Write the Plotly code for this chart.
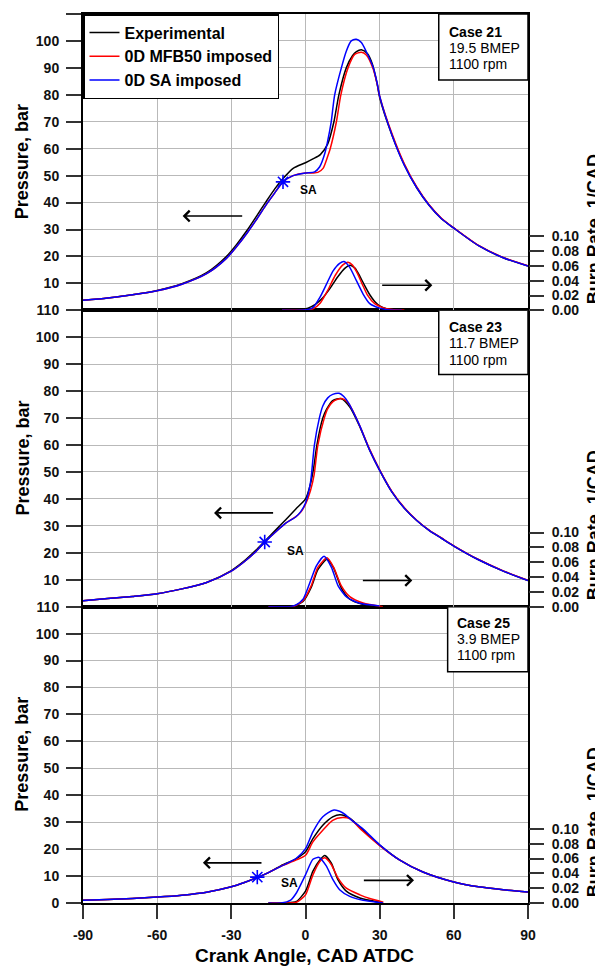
import plotly.graph_objects as go

# ---------------- Case 21 (top) ----------------
c21_exp_cad = [-90, -80, -70, -60, -50, -40, -32, -28, -23.4, -20, -16.2, -12.5, -9, -5, 0, 3, 6, 9, 11.5, 13.5, 16.5, 19, 20.6, 22.6, 25, 27, 29, 30, 35, 40, 45, 50, 55, 60, 70, 80, 90]
c21_exp_p = [3.7, 4.6, 5.8, 7.4, 9.9, 14.0, 20.0, 24.3, 30.0, 34.7, 40.0, 45.0, 49.0, 52.7, 54.8, 56.2, 57.8, 61.8, 70, 80, 90, 94.5, 96, 96.7, 95.3, 91.5, 84, 79, 65, 54, 45.5, 39, 34, 30.5, 24, 19.5, 16.4]
c21_mfb_cad = [-90, -80, -70, -60, -50, -40, -32, -28, -23.4, -20, -16.2, -12.5, -9.1, -5, 0, 3, 5, 7.1, 9.1, 10, 12.5, 14.3, 17.2, 19.9, 22.6, 24.6, 27.3, 29, 30, 35, 40, 45, 50, 55, 60, 70, 80, 90]
c21_mfb_p = [3.7, 4.6, 5.8, 7.3, 9.7, 13.6, 19.3, 23.5, 29.0, 33.5, 38.8, 43.5, 47.7, 50.0, 51.0, 51.0, 51.2, 52.7, 57.5, 60, 70, 80, 90, 95, 95.8, 94.8, 89.8, 84, 79.5, 65.5, 54.3, 45.8, 39.2, 34.2, 30.6, 24.1, 19.6, 16.5]
c21_sa_cad = [-90, -80, -70, -60, -50, -40, -32, -28, -23.4, -20, -16.2, -12.5, -9.1, -5, 0, 3.7, 5.75, 7.8, 9, 10.4, 11.8, 14.5, 16.5, 18.5, 20.6, 22.6, 24.6, 27.3, 29, 30, 35, 40, 45, 50, 55, 60, 70, 80, 90]
c21_sa_p = [3.7, 4.6, 5.8, 7.3, 9.7, 13.6, 19.3, 23.5, 29.0, 33.5, 38.8, 43.5, 47.7, 50.0, 51.0, 51.4, 53.3, 58.2, 63, 70, 80, 90, 96.2, 100, 100.6, 99.4, 96, 90.4, 84.3, 79.5, 65, 53.8, 45.5, 39, 34, 30.5, 24, 19.5, 16.4]

c21_br_exp_cad = [-9.5, -5, -2, 1, 4, 7, 10, 13, 16, 18, 20, 22, 24, 26, 28, 30, 33, 36]
c21_br_exp = [0, 0.0005, 0.001, 0.003, 0.008, 0.017, 0.030, 0.045, 0.057, 0.061, 0.057, 0.046, 0.033, 0.021, 0.012, 0.006, 0.002, 0]
c21_br_mfb_cad = [-9.5, -3, 0, 3, 6, 9, 12, 15, 17.2, 19, 21, 23, 25, 28, 31, 35, 40]
c21_br_mfb = [0, 0, 0.0005, 0.002, 0.010, 0.027, 0.047, 0.061, 0.065, 0.061, 0.050, 0.035, 0.021, 0.009, 0.004, 0.001, 0]
c21_br_sa_cad = [-9.5, -2, 1, 3, 5.75, 8.45, 11.1, 13.8, 15.6, 17.9, 20.6, 23.3, 26, 30, 34, 39]
c21_br_sa = [0, 0, 0.001, 0.0036, 0.017, 0.035, 0.053, 0.0635, 0.066, 0.058, 0.040, 0.022, 0.009, 0.003, 0.0005, 0]

# ---------------- Case 23 (middle) ----------------
c23_exp_cad = [-90, -80, -70, -60, -50, -40, -30, -25, -20, -16.5, -12, -8, -4, 0, 2, 3.3, 4.6, 7, 8.5, 11, 14.5, 18, 22, 26, 30, 35, 40, 45, 50, 55, 60, 70, 80, 90]
c23_exp_p = [2.2, 3.0, 3.8, 4.8, 6.6, 9.0, 13.4, 16.8, 21, 24.3, 28.5, 32.3, 36.2, 40, 45.5, 51.5, 60, 70, 73.2, 76.5, 77.2, 74, 66.7, 58, 50.6, 42.5, 36.5, 32, 28.3, 25.4, 22.5, 17.4, 13.2, 9.7]
c23_mfb_cad = [-90, -80, -70, -60, -50, -40, -30, -25, -20, -16.5, -12, -8, -4, -2, 0, 2, 3.5, 5, 7.6, 9, 11, 13, 14.9, 17, 19, 22, 26, 30, 35, 40, 45, 50, 55, 60, 70, 80, 90]
c23_mfb_p = [2.2, 3.0, 3.8, 4.8, 6.6, 9.0, 13.2, 16.5, 20.5, 23.9, 27.8, 31, 33.3, 35, 38, 43, 49, 60, 70, 73.5, 76, 77, 77.2, 76, 73, 67, 58.3, 50.8, 42.7, 36.7, 32.1, 28.4, 25.5, 22.6, 17.5, 13.3, 9.8]
c23_sa_cad = [-90, -80, -70, -60, -50, -40, -30, -25, -20, -16.5, -12, -8, -4, -2, 0, 2, 3.6, 5.6, 7, 9, 11, 13.6, 15.5, 17.5, 20, 22, 26, 30, 35, 40, 45, 50, 55, 60, 70, 80, 90]
c23_sa_p = [2.2, 3.0, 3.8, 4.8, 6.6, 9.0, 13.2, 16.5, 20.5, 23.9, 27.8, 31, 33.3, 35.2, 38.5, 46, 60, 70, 74.5, 77.5, 78.8, 79.2, 78, 75.5, 71, 67, 58, 50.6, 42.5, 36.5, 32, 28.3, 25.4, 22.5, 17.4, 13.2, 9.7]

c23_br_exp_cad = [-15, -5, -1, 2.3, 5, 8.7, 11.4, 14.5, 17.9, 23.3, 30]
c23_br_exp = [0, 0.0005, 0.007, 0.026, 0.050, 0.064, 0.052, 0.025, 0.010, 0.003, 0]
c23_br_mfb_cad = [-15, -5, -1, 2.3, 5, 8.7, 11.4, 14.5, 17.9, 23.3, 31.3]
c23_br_mfb = [0, 0, 0.008, 0.028, 0.053, 0.066, 0.053, 0.028, 0.0135, 0.005, 0]
c23_br_sa_cad = [-15, -6.4, -4, -1, 1.6, 4.4, 7.5, 10.5, 13.2, 16.6, 21.9, 30]
c23_br_sa = [0, 0, 0.002, 0.010, 0.031, 0.055, 0.068, 0.053, 0.028, 0.013, 0.0045, 0.001]

# ---------------- Case 25 (bottom) ----------------
c25_exp_cad = [-90, -80, -70, -60, -50, -40, -30, -25, -20, -15, -10, -3.7, 0, 3, 7, 11, 14, 18, 23, 30, 38, 47.5, 60, 70, 80, 90]
c25_exp_p = [1.0, 1.3, 1.7, 2.2, 2.9, 4.0, 6.0, 7.5, 9.3, 11.3, 13.8, 16.5, 19, 23.9, 28.9, 32, 32.8, 31.4, 27.2, 21.5, 16, 11.5, 7.8, 6.0, 4.9, 4.1]
c25_mfb_cad = [-90, -80, -70, -60, -50, -40, -30, -25, -20, -15, -10, -3.7, 0, 3, 7, 11, 15, 18, 23, 30, 38, 47.5, 60, 70, 80, 90]
c25_mfb_p = [1.0, 1.3, 1.7, 2.2, 2.9, 4.0, 6.0, 7.5, 9.3, 11.3, 13.6, 16.0, 17.7, 22.7, 27, 30.7, 31.7, 31.2, 26.8, 21.3, 16, 11.5, 7.8, 6.0, 4.9, 4.1]
c25_sa_cad = [-90, -80, -70, -60, -50, -40, -30, -25, -20, -15, -10, -3.7, 0, 3, 7, 11.5, 15, 19, 23, 30, 38, 47.5, 60, 70, 80, 90]
c25_sa_p = [1.0, 1.3, 1.7, 2.2, 2.9, 4.0, 6.0, 7.5, 9.3, 11.3, 13.6, 16.6, 20.2, 26.4, 32, 34.5, 33.5, 30.5, 27.7, 21.6, 16, 11.5, 7.8, 6.0, 4.9, 4.1]

c25_br_exp_cad = [-15, -8, -3.7, 0, 3, 5.8, 7.8, 10.4, 13.1, 16.5, 22, 30]
c25_br_exp = [0, 0, 0.002, 0.016, 0.043, 0.058, 0.064, 0.054, 0.0315, 0.016, 0.0068, 0.001]
c25_br_mfb_cad = [-15, -8, -3.7, 0, 3, 5.8, 7.8, 10.4, 13.1, 16.5, 22, 26, 31.5]
c25_br_mfb = [0, 0, 0.001, 0.011, 0.038, 0.056, 0.061, 0.052, 0.034, 0.020, 0.011, 0.006, 0.001]
c25_br_sa_cad = [-15, -10, -6, -3.7, 0, 3, 5.5, 8.4, 11.1, 13.8, 17.9, 23.3, 31.4]
c25_br_sa = [0, 0, 0.004, 0.0135, 0.038, 0.059, 0.0615, 0.050, 0.0315, 0.018, 0.009, 0.0036, 0]

# spark advance markers (top, middle, bottom)
sa_cad = [-9.1, -16.5, -19.5]
sa_p = [47.7, 24.0, 9.6]

case_names = ["Case 21", "Case 23", "Case 25"]
case_bmep = ["19.5 BMEP", "11.7 BMEP", "3.9 BMEP"]
case_rpm = ["1100 rpm", "1100 rpm", "1100 rpm"]

x_ticks = [-90, -60, -30, 0, 30, 60, 90]
x_tick_text = ["-90", "-60", "-30", "0", "30", "60", "90"]
br_ticks = [0.0, 0.02, 0.04, 0.06, 0.08, 0.10]
br_tick_text = ["0.00", "0.02", "0.04", "0.06", "0.08", "0.10"]
series_names = ["Experimental", "0D MFB50 imposed", "0D SA imposed"]
colors = ["#000000", "#ff0000", "#0000ff"]

FONT = "Liberation Sans, Arial, sans-serif"

fig = go.Figure()

panels = [
    dict(xa="x3", ya="y3", yb="y6",
         p=[(c21_exp_cad, c21_exp_p), (c21_mfb_cad, c21_mfb_p), (c21_sa_cad, c21_sa_p)],
         br=[(c21_br_exp_cad, c21_br_exp), (c21_br_mfb_cad, c21_br_mfb), (c21_br_sa_cad, c21_br_sa)]),
    dict(xa="x2", ya="y2", yb="y5",
         p=[(c23_exp_cad, c23_exp_p), (c23_mfb_cad, c23_mfb_p), (c23_sa_cad, c23_sa_p)],
         br=[(c23_br_exp_cad, c23_br_exp), (c23_br_mfb_cad, c23_br_mfb), (c23_br_sa_cad, c23_br_sa)]),
    dict(xa="x", ya="y", yb="y4",
         p=[(c25_exp_cad, c25_exp_p), (c25_mfb_cad, c25_mfb_p), (c25_sa_cad, c25_sa_p)],
         br=[(c25_br_exp_cad, c25_br_exp), (c25_br_mfb_cad, c25_br_mfb), (c25_br_sa_cad, c25_br_sa)]),
]

for i, pn in enumerate(panels):
    for k in range(3):
        cx, cy = pn["p"][k]
        fig.add_trace(go.Scatter(x=cx, y=cy, mode="lines", name=series_names[k],
                                 line=dict(color=colors[k], width=1.5, shape="spline", smoothing=0.7),
                                 xaxis=pn["xa"], yaxis=pn["ya"], showlegend=(i == 0)))
    for k in range(3):
        cx, cy = pn["br"][k]
        fig.add_trace(go.Scatter(x=cx, y=cy, mode="lines", name=series_names[k],
                                 line=dict(color=colors[k], width=1.5, shape="spline", smoothing=0.6),
                                 xaxis=pn["xa"], yaxis=pn["yb"], showlegend=False))
    fig.add_trace(go.Scatter(x=[sa_cad[i]], y=[sa_p[i]], mode="markers", showlegend=False,
                             marker=dict(symbol="asterisk-open", size=12, color="#0000ff",
                                         line=dict(color="#0000ff", width=1.6)),
                             xaxis=pn["xa"], yaxis=pn["ya"]))

grid_c = "#b9b9b9"
tickfont = dict(family=FONT, size=14, color="#111", weight="bold")

def xaxis_cfg(anchor, show):
    return dict(range=[-90, 90], tickvals=x_ticks, ticktext=x_tick_text, showgrid=True,
                gridcolor=grid_c, gridwidth=1.2, automargin=False,
                zeroline=False, showline=True, mirror=True, linecolor="black", linewidth=2,
                anchor=anchor, matches=None if anchor == "y" else "x",
                ticks="outside" if show else "", ticklen=14, tickwidth=1.6, tickcolor="#333",
                showticklabels=show, tickfont=tickfont, ticklabelstandoff=4)

def yaxis_cfg(dom, vals, anchor):
    return dict(domain=dom, range=[0, 110], tickvals=vals, showgrid=True, gridcolor=grid_c, gridwidth=1.2,
                zeroline=False, showline=True, mirror=True, linecolor="black", linewidth=2,
                ticks="outside", ticklen=15, tickwidth=1.8, tickcolor="#333", tickfont=tickfont,
                anchor=anchor, ticklabelstandoff=4, automargin=False)

def ybr_cfg(dom, over, anchor):
    return dict(domain=dom, overlaying=over, anchor=anchor, side="right", range=[0, 0.4],
                tickvals=br_ticks, ticktext=br_tick_text, automargin=False,
                showgrid=False, zeroline=False, showline=False,
                ticks="outside", ticklen=15, tickwidth=1.8, tickcolor="#333", tickfont=tickfont,
                ticklabelstandoff=5)

y_full = list(range(0, 111, 10))
y_upper = list(range(10, 111, 10))
d0, d1, d2 = [0, 1/3], [1/3, 2/3], [2/3, 1]

# the page has an 8px body margin: the figure is sized/offset so that the
# plot lands where the reference has it
fig.update_layout(
    width=595, height=961,
    margin=dict(l=75, r=75, t=6, b=66, autoexpand=False),
    paper_bgcolor="white", plot_bgcolor="white",
    font=dict(family=FONT, color="black"),
    xaxis=xaxis_cfg("y", True),
    xaxis2=xaxis_cfg("y2", False),
    xaxis3=xaxis_cfg("y3", False),
    yaxis=yaxis_cfg(d0, y_full, "x"),
    yaxis2=yaxis_cfg(d1, y_upper, "x2"),
    yaxis3=yaxis_cfg(d2, y_upper, "x3"),
    yaxis4=ybr_cfg(d0, "y", "x"),
    yaxis5=ybr_cfg(d1, "y2", "x2"),
    yaxis6=ybr_cfg(d2, "y3", "x3"),
    legend=dict(x=0, y=1, xanchor="left", yanchor="top", bgcolor="white",
                bordercolor="black", borderwidth=1.5,
                font=dict(family=FONT, size=16, color="black", weight="bold"),
                itemwidth=30, tracegroupgap=0),
    showlegend=True,
)

annotations = []
shapes = []
axes = [("x3", "y3"), ("x2", "y2"), ("x", "y")]
box_x0 = [53.9, 53.9, 57.5]
box_y0 = [85.5, 86.2, 85.8]
text_x = [57.4, 57.4, 60.4]
text_y = [[103.3, 97.4, 91.4], [103.8, 97.9, 91.7], [103.9, 97.9, 92.1]]
sa_lab = [(-3.0, 44.6), (-8.4, 20.8), (-10.8, 7.4)]
arrow_left = [((-49.7, 35), (-25, 35)), ((-37, 34.8), (-12.5, 34.8)), ((-41.5, 14.9), (-17.2, 14.9))]
arrow_right = [((51.3, 9.3), (30.4, 9.3)), ((43.2, 9.7), (22.6, 9.7)), ((43.9, 8.4), (23, 8.4))]

for i, (xa, ya) in enumerate(axes):
    shapes.append(dict(type="rect", xref=xa, yref=ya, x0=box_x0[i], x1=90, y0=box_y0[i], y1=110,
                       line=dict(color="black", width=1.5), fillcolor="white", layer="above"))
    lines = ["<b>%s</b>" % case_names[i], case_bmep[i], case_rpm[i]]
    for j, t in enumerate(lines):
        annotations.append(dict(x=text_x[i], y=text_y[i][j], xref=xa, yref=ya, text=t, showarrow=False,
                                xanchor="left", yanchor="middle",
                                font=dict(family=FONT, size=14, color="black")))
    annotations.append(dict(x=sa_lab[i][0], y=sa_lab[i][1], xref=xa, yref=ya, text="<b>SA</b>",
                            showarrow=False, xanchor="left", yanchor="middle",
                            font=dict(family=FONT, size=12, color="black")))
    for (hx, hy), (tx, ty) in [arrow_left[i], arrow_right[i]]:
        annotations.append(dict(x=hx, y=hy, ax=tx, ay=ty, xref=xa, yref=ya, axref=xa, ayref=ya,
                                text="", showarrow=True, arrowhead=4, arrowsize=1.3, arrowwidth=1.6,
                                arrowcolor="black"))

# axis titles
title_font = dict(family=FONT, size=18, color="black", weight="bold")
for yc in [5/6, 0.5, 1/6]:
    annotations.append(dict(x=0, y=yc, xref="paper", yref="paper", text="Pressure, bar",
                            textangle=-90, showarrow=False, xanchor="center", yanchor="middle",
                            xshift=-61, font=title_font))
for yc in [0.758, 0.425, 0.0908]:
    annotations.append(dict(x=1, y=yc, xref="paper", yref="paper", text="Burn Rate, 1/CAD",
                            textangle=-90, showarrow=False, xanchor="center", yanchor="middle",
                            xshift=66, font=title_font))
annotations.append(dict(x=0.498, y=0, xref="paper", yref="paper", text="Crank Angle, CAD ATDC",
                        showarrow=False, xanchor="center", yanchor="middle", yshift=-52,
                        font=dict(family=FONT, size=19, color="black", weight="bold")))

fig.update_layout(annotations=annotations, shapes=shapes)
fig.write_html("out.html")
